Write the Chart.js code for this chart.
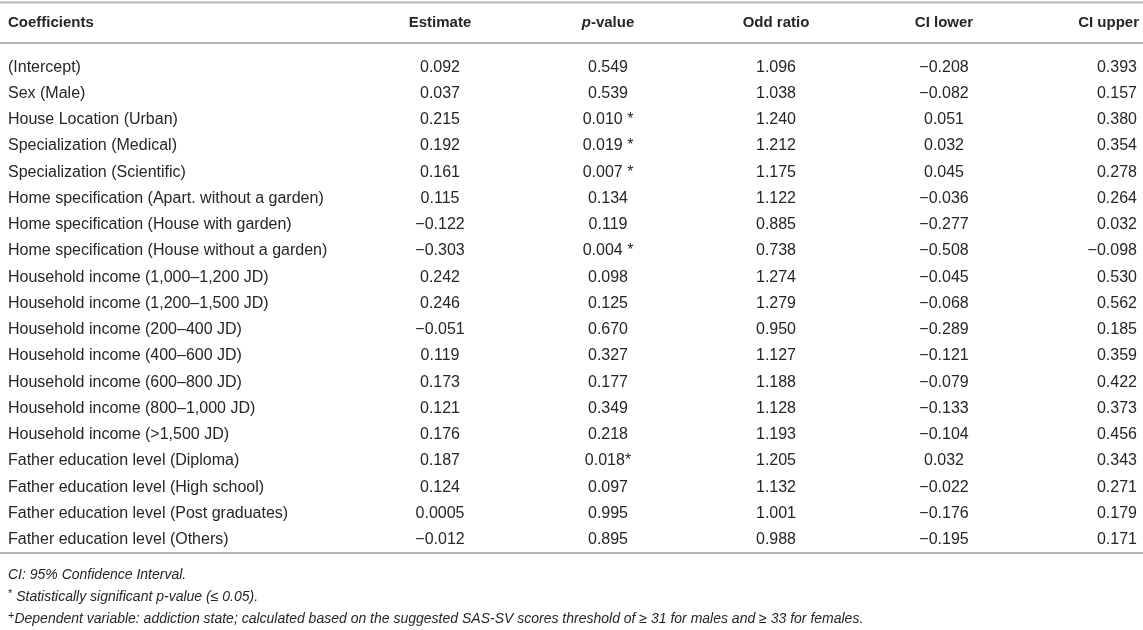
<!DOCTYPE html>
<html>
<head>
<meta charset="utf-8">
<script src="https://cdn.jsdelivr.net/npm/chart.js@4/dist/chart.umd.min.js"></script>
<style>
  html, body { margin: 0; padding: 0; background: #fff; }
  #box { width: 1143px; height: 630px; position: relative; }
</style>
</head>
<body>
<div id="box"><canvas id="myChart"></canvas></div>
<script>
// table content
var rowLabels = [
	'(Intercept)',
	'Sex (Male)',
	'House Location (Urban)',
	'Specialization (Medical)',
	'Specialization (Scientific)',
	'Home specification (Apart. without a garden)',
	'Home specification (House with garden)',
	'Home specification (House without a garden)',
	'Household income (1,000\u20131,200 JD)',
	'Household income (1,200\u20131,500 JD)',
	'Household income (200\u2013400 JD)',
	'Household income (400\u2013600 JD)',
	'Household income (600\u2013800 JD)',
	'Household income (800\u20131,000 JD)',
	'Household income (>1,500 JD)',
	'Father education level (Diploma)',
	'Father education level (High school)',
	'Father education level (Post graduates)',
	'Father education level (Others)'
];
var columnLabels = ['Estimate', 'p-value', 'Odd ratio', 'CI lower', 'CI upper'];
var firstHeader = 'Coefficients';

var estimate = [0.092, 0.037, 0.215, 0.192, 0.161, 0.115, -0.122, -0.303, 0.242, 0.246, -0.051, 0.119, 0.173, 0.121, 0.176, 0.187, 0.124, 0.0005, -0.012];
var pValue   = [0.549, 0.539, 0.010, 0.019, 0.007, 0.134, 0.119, 0.004, 0.098, 0.125, 0.670, 0.327, 0.177, 0.349, 0.218, 0.018, 0.097, 0.995, 0.895];
var pMark    = ['', '', ' *', ' *', ' *', '', '', ' *', '', '', '', '', '', '', '', '*', '', '', ''];
var oddRatio = [1.096, 1.038, 1.240, 1.212, 1.175, 1.122, 0.885, 0.738, 1.274, 1.279, 0.950, 1.127, 1.188, 1.128, 1.193, 1.205, 1.132, 1.001, 0.988];
var ciLower  = [-0.208, -0.082, 0.051, 0.032, 0.045, -0.036, -0.277, -0.508, -0.045, -0.068, -0.289, -0.121, -0.079, -0.133, -0.104, 0.032, -0.022, -0.176, -0.195];
var ciUpper  = [0.393, 0.157, 0.380, 0.354, 0.278, 0.264, 0.032, -0.098, 0.530, 0.562, 0.185, 0.359, 0.422, 0.373, 0.456, 0.343, 0.271, 0.179, 0.171];

var footnotes = [
	{ mark: '', text: 'CI: 95% Confidence Interval.' },
	{ mark: '*', text: ' Statistically significant p-value (\u2264 0.05).' },
	{ mark: '+', text: 'Dependent variable: addiction state; calculated based on the suggested SAS-SV scores threshold of \u2265 31 for males and \u2265 33 for females.' }
];

var FONT = "'Liberation Sans', Arial, Helvetica, sans-serif";
var textColor = '#262626';
var ruleColor = '#b4b4b4';

function fmt(v) {
	var s = Math.abs(v).toString();
	var d = (s.split('.')[1] || '').length;
	return (v < 0 ? '\u2212' : '') + Math.abs(v).toFixed(Math.max(3, d));
}

var columns = [
	estimate.map(fmt),
	pValue.map(function(v, i) { return fmt(v) + pMark[i]; }),
	oddRatio.map(fmt),
	ciLower.map(fmt),
	ciUpper.map(fmt)
];

var tablePlugin = {
	id: 'tableText',
	afterDraw: function(chart) {
		var c = chart.ctx;
		var xs = chart.scales.x;
		var ys = chart.scales.y;
		var area = chart.chartArea;
		var W = chart.width;
		var last = columnLabels.length - 1;
		c.save();

		// rules
		c.strokeStyle = ruleColor;
		c.lineWidth = 2;
		[area.top - 51.5, area.top - 11, area.bottom].forEach(function(y) {
			c.beginPath();
			c.moveTo(0, y);
			c.lineTo(W, y);
			c.stroke();
		});

		// headers
		var hy = area.top - 31;
		c.fillStyle = textColor;
		c.textBaseline = 'middle';
		c.font = 'bold 15px ' + FONT;
		c.textAlign = 'left';
		c.fillText(firstHeader, ys.left, hy);
		columnLabels.forEach(function(lab, j) {
			var x = xs.getPixelForValue(j);
			if (lab === 'p-value') {
				c.font = 'italic bold 15px ' + FONT;
				var w1 = c.measureText('p').width;
				c.font = 'bold 15px ' + FONT;
				var w2 = c.measureText('-value').width;
				var x0 = x - (w1 + w2) / 2;
				c.textAlign = 'left';
				c.font = 'italic bold 15px ' + FONT;
				c.fillText('p', x0, hy);
				c.font = 'bold 15px ' + FONT;
				c.fillText('-value', x0 + w1, hy);
			} else if (j === last) {
				// last column sits flush right
				c.textAlign = 'right';
				c.font = 'bold 15px ' + FONT;
				c.fillText(lab, x + 27, hy);
			} else {
				c.textAlign = 'center';
				c.font = 'bold 15px ' + FONT;
				c.fillText(lab, x, hy);
			}
		});

		// cells
		c.font = '16px ' + FONT;
		columns.forEach(function(col, j) {
			var x = xs.getPixelForValue(j);
			c.textAlign = j === last ? 'right' : 'center';
			if (j === last) x += 25;
			col.forEach(function(txt, i) {
				c.fillText(txt, x, ys.getPixelForValue(i));
			});
		});

		// footnotes
		c.textAlign = 'left';
		footnotes.forEach(function(f, k) {
			var fy = area.bottom + 22 + k * 22;
			var x = ys.left;
			if (f.mark) {
				c.font = '11px ' + FONT;
				c.fillText(f.mark, x, fy - 3);
				x += c.measureText(f.mark).width;
			}
			c.font = 'italic 14px ' + FONT;
			c.fillText(f.text, x, fy);
		});
		c.restore();
	}
};

var ctx = document.getElementById('myChart').getContext('2d');
var myChart = new Chart(ctx, {
	type: 'line',
	data: {
		labels: rowLabels,
		datasets: []
	},
	options: {
		responsive: true,
		maintainAspectRatio: false,
		animation: false,
		events: [],
		layout: { padding: { left: 8, right: 31, top: 54, bottom: 77 } },
		plugins: {
			legend: { display: false },
			tooltip: { enabled: false }
		},
		scales: {
			x: {
				type: 'category',
				labels: columnLabels,
				min: 0,
				max: columnLabels.length - 1,
				offset: false,
				display: false
			},
			y: {
				type: 'category',
				labels: rowLabels,
				min: 0,
				max: rowLabels.length - 1,
				offset: true,
				grid: { display: false, drawTicks: false },
				border: { display: false },
				ticks: {
					autoSkip: false,
					crossAlign: 'far',
					padding: 0,
					color: textColor,
					font: { family: FONT, size: 16 }
				},
				afterFit: function(scale) { scale.width = 432; }
			}
		}
	},
	plugins: [tablePlugin]
});
</script>
</body>
</html>
